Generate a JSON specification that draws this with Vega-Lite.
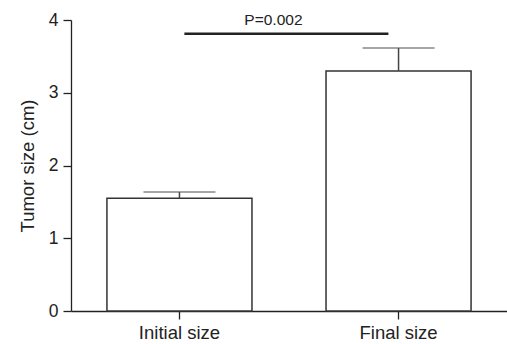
{
  "$schema": "https://vega.github.io/schema/vega-lite/v6.json",
  "width": 436,
  "height": 291,
  "autosize": {"type": "none"},
  "padding": {"left": 71, "top": 20, "right": 0, "bottom": 33},
  "config": {
    "view": {"stroke": null},
    "font": "Liberation Sans",
    "axis": {
      "domainColor": "#222",
      "tickColor": "#222",
      "labelColor": "#222",
      "titleColor": "#222",
      "grid": false,
      "labelFont": "Liberation Sans",
      "titleFont": "Liberation Sans",
      "titleFontWeight": "normal",
      "domainWidth": 1.3,
      "tickWidth": 1.3
    }
  },
  "data": {
    "values": [
      {"group": "Initial size", "mean": 1.55, "upper": 1.635},
      {"group": "Final size", "mean": 3.30, "upper": 3.615}
    ]
  },
  "encoding": {
    "x": {
      "field": "group",
      "type": "nominal",
      "scale": {"domain": ["Initial size", "Final size"], "paddingInner": 0.338, "paddingOuter": 0.164},
      "axis": {
        "title": null,
        "labelAngle": 0,
        "labelFontSize": 18.5,
        "tickSize": 8,
        "labelPadding": 4
      }
    }
  },
  "layer": [
    {
      "mark": {"type": "bar", "fill": "white", "stroke": "#333", "strokeWidth": 1.5},
      "encoding": {
        "y": {
          "field": "mean",
          "type": "quantitative",
          "scale": {"domain": [0, 4], "nice": false},
          "axis": {
            "title": "Tumor size (cm)",
            "values": [0, 1, 2, 3, 4],
            "format": "d",
            "labelFontSize": 17.5,
            "titleFontSize": 18.5,
            "tickSize": 8,
            "labelPadding": 5,
            "titlePadding": 11
          }
        }
      }
    },
    {
      "mark": {"type": "rule", "stroke": "#444", "strokeWidth": 1.5},
      "encoding": {
        "y": {"field": "mean", "type": "quantitative"},
        "y2": {"field": "upper"}
      }
    },
    {
      "mark": {"type": "tick", "color": "#555", "size": 72, "thickness": 1.5, "orient": "horizontal"},
      "encoding": {
        "y": {"field": "upper", "type": "quantitative"}
      }
    },
    {
      "data": {"values": [{"from": "Initial size", "to": "Final size", "y": 3.81, "label": "P=0.002"}]},
      "mark": {"type": "rule", "stroke": "#222", "strokeWidth": 2.5},
      "encoding": {
        "x": {"field": "from", "type": "nominal", "bandPosition": 0.534},
        "x2": {"field": "to", "bandPosition": 0.43},
        "y": {"field": "y", "type": "quantitative"}
      }
    },
    {
      "data": {"values": [{"from": "Initial size", "to": "Final size", "y": 3.81, "label": "P=0.002"}]},
      "mark": {"type": "text", "fontSize": 15.5, "color": "#222", "baseline": "alphabetic", "dy": -9, "align": "center"},
      "encoding": {
        "x": {"field": "from", "type": "nominal", "bandPosition": 1.148},
        "y": {"field": "y", "type": "quantitative"},
        "text": {"field": "label"}
      }
    }
  ]
}
